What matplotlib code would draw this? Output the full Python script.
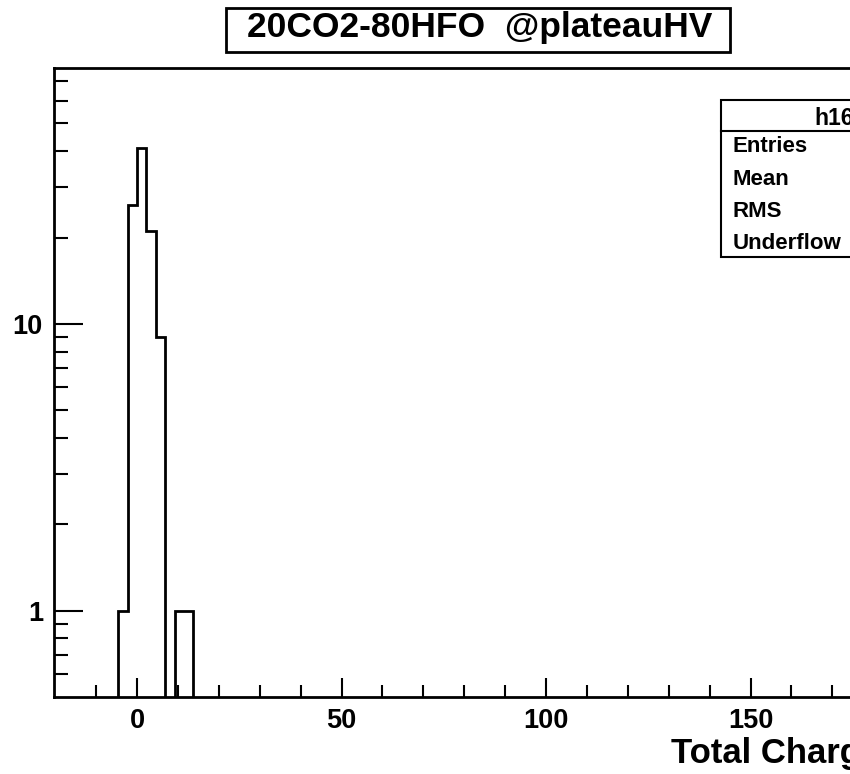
import matplotlib

matplotlib.use("Agg")
import matplotlib.pyplot as plt
from matplotlib.patches import Rectangle
from matplotlib.lines import Line2D
from matplotlib.ticker import FixedLocator, NullFormatter, FixedFormatter

# histogram data
bin_edges = [-4.6, -2.3, 0.0, 2.3, 4.6, 6.9, 9.2, 11.5, 13.8]
counts = [1, 26, 41, 21, 9, 0, 1, 1]

x_major = [0, 50, 100, 150]
x_minor = [-10, 10, 20, 30, 40, 60, 70, 80, 90, 110, 120, 130, 140, 160, 170, 180, 190]
y_major = [1, 10]
y_minor = [0.6, 0.7, 0.8, 0.9, 2, 3, 4, 5, 6, 7, 8, 9, 20, 30, 40, 50, 60, 70]

title = "20CO2-80HFO  @plateauHV"
xlabel = "Total Charge"
stats_name = "h16"
stats_rows = ["Entries", "Mean", "RMS", "Underflow"]

plt.rcParams["font.family"] = ["Liberation Sans", "DejaVu Sans"]
plt.rcParams["font.weight"] = "bold"

W, H = 850, 774
fig = plt.figure(figsize=(W / 100, H / 100), dpi=100)

# axes: left edge at px 54, bottom at 697, top at 68; runs off the right edge
x0_px, x_zero_px, px_per_unit = 54, 137, 4.09
xmin, xmax = -20.3, 200
right_px = x_zero_px + xmax * px_per_unit
ax = fig.add_axes([x0_px / W, 1 - 697 / H, (right_px - x0_px) / W, (697 - 68) / H])

ax.stairs(counts, bin_edges, color="black", linewidth=2, baseline=0)
ax.set_yscale("log")
ax.set_xlim(xmin, xmax)
ax.set_ylim(0.5, 78)

for s in ax.spines.values():
    s.set_linewidth(2)

ax.xaxis.set_major_locator(FixedLocator(x_major))
ax.xaxis.set_minor_locator(FixedLocator(x_minor))
ax.yaxis.set_major_locator(FixedLocator(y_major))
ax.yaxis.set_major_formatter(FixedFormatter([str(v) for v in y_major]))
ax.yaxis.set_minor_locator(FixedLocator(y_minor))
ax.yaxis.set_minor_formatter(NullFormatter())

ax.tick_params(axis="x", which="major", direction="in", length=13.7, width=1.5,
               labelsize=19.5, pad=8, top=False)
ax.tick_params(axis="x", which="minor", direction="in", length=8.5, width=1.5, top=False)
ax.tick_params(axis="y", which="major", direction="in", length=21, width=1.5,
               labelsize=19.5, pad=8, right=False)
ax.tick_params(axis="y", which="minor", direction="in", length=10, width=1.5, right=False)
for lab in ax.get_xticklabels() + ax.get_yticklabels():
    lab.set_fontweight("bold")

# axis title, ROOT style at bottom right (cut by the canvas edge)
fig.text(671 / W, 1 - 754 / H, xlabel, fontsize=25, fontweight="bold",
         ha="left", va="center")

# title box
fig.patches.append(Rectangle((226 / W, 1 - 52 / H), (730 - 226) / W, 44 / H,
                             transform=fig.transFigure, facecolor="white",
                             edgecolor="black", linewidth=2))
fig.text(480 / W, 1 - 37 / H, title, fontsize=25.5, fontweight="bold",
         ha="center", va="baseline")

# stats box (cut by the canvas edge)
bx0, by0, by1 = 721 / W, 1 - 257 / H, 1 - 100 / H
fig.patches.append(Rectangle((bx0, by0), 1.2 - bx0, by1 - by0, transform=fig.transFigure,
                             facecolor="white", edgecolor="black", linewidth=1.5))
fig.lines.append(Line2D([bx0, 1.2], [1 - 131 / H] * 2, transform=fig.transFigure,
                        color="black", linewidth=1.5))
fig.text(814 / W, 1 - 125 / H, stats_name, fontsize=16.5, fontweight="bold",
         ha="left", va="baseline")
for i, row in enumerate(stats_rows):
    fig.text(733 / W, 1 - (147 + i * 32.3) / H, row, fontsize=16, fontweight="bold",
             ha="left", va="center")

fig.savefig("out.png", dpi=100)
